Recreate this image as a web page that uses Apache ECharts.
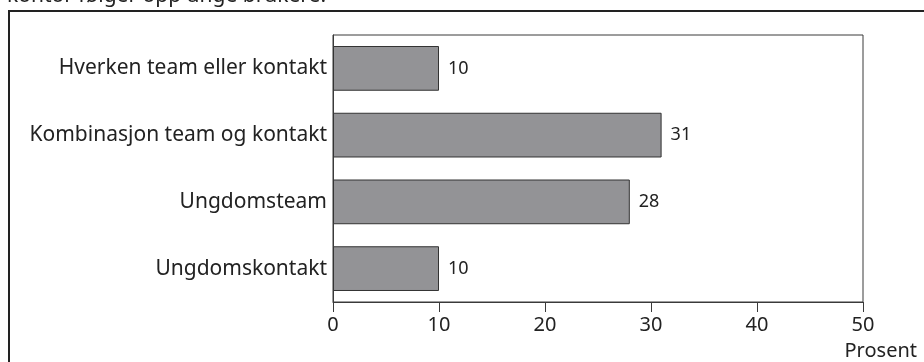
<!DOCTYPE html>
<html>
<head>
<meta charset="utf-8">
<style>
  html, body { margin: 0; padding: 0; background: #ffffff; }
  #chart { width: 924px; height: 362px; }
</style>
<script src="https://cdn.jsdelivr.net/npm/echarts@6/dist/echarts.min.js"></script>
</head>
<body>
<div id="chart"></div>
<script>
// Kategorier (øverst til nederst) og andel i prosent
const categories = [
  'Hverken team eller kontakt',
  'Kombinasjon team og kontakt',
  'Ungdomsteam',
  'Ungdomskontakt'
];
const values = [10, 31, 28, 10];
const xTicks = [0, 10, 20, 30, 40, 50];
const headingText = 'kontor følger opp unge brukere.';
const unitText = 'Prosent';

const FONT = '"Noto Sans", "Open Sans", sans-serif';
const FS = 20;
const chart = echarts.init(document.getElementById('chart'), null, { renderer: 'canvas' });

chart.setOption({
  animation: false,
  backgroundColor: '#ffffff',
  grid: {
    left: 333, right: 61, top: 35, bottom: 60,
    show: true, borderColor: '#3a3a3a', borderWidth: 1, backgroundColor: 'transparent'
  },
  xAxis: {
    type: 'value',
    min: xTicks[0],
    max: xTicks[xTicks.length - 1],
    interval: xTicks[1] - xTicks[0],
    axisLine: { show: true, lineStyle: { color: '#3a3a3a', width: 1 } },
    axisTick: { show: true, length: 10, lineStyle: { color: '#3a3a3a', width: 1 } },
    axisLabel: { color: '#222', fontSize: FS, fontFamily: FONT, margin: 13 },
    splitLine: { show: false }
  },
  yAxis: {
    type: 'category',
    data: categories,
    inverse: true,
    axisLine: { show: true, lineStyle: { color: '#3a3a3a', width: 1 } },
    axisTick: { show: false },
    axisLabel: { color: '#222', fontSize: 21, fontFamily: FONT, margin: 6 }
  },
  series: [{
    type: 'bar',
    data: values,
    barCategoryGap: '33%',
    itemStyle: { color: '#939396', borderColor: '#333333', borderWidth: 1 },
    label: {
      show: true,
      position: 'right',
      distance: 9,
      color: '#222',
      fontSize: 18,
      fontFamily: FONT
    }
  }],
  graphic: [
    {
      type: 'rect',
      shape: { x: 9, y: 11, width: 940, height: 400 },
      style: { fill: 'none', stroke: '#222222', lineWidth: 2 },
      silent: true
    },
    {
      type: 'text',
      x: 7, y: 7,
      style: {
        text: headingText, fill: '#222', font: '21px ' + FONT,
        verticalAlign: 'bottom', align: 'left'
      }
    },
    {
      type: 'text',
      right: 7, top: 341,
      style: { text: unitText, fill: '#222', font: FS + 'px ' + FONT }
    }
  ]
});
</script>
</body>
</html>
